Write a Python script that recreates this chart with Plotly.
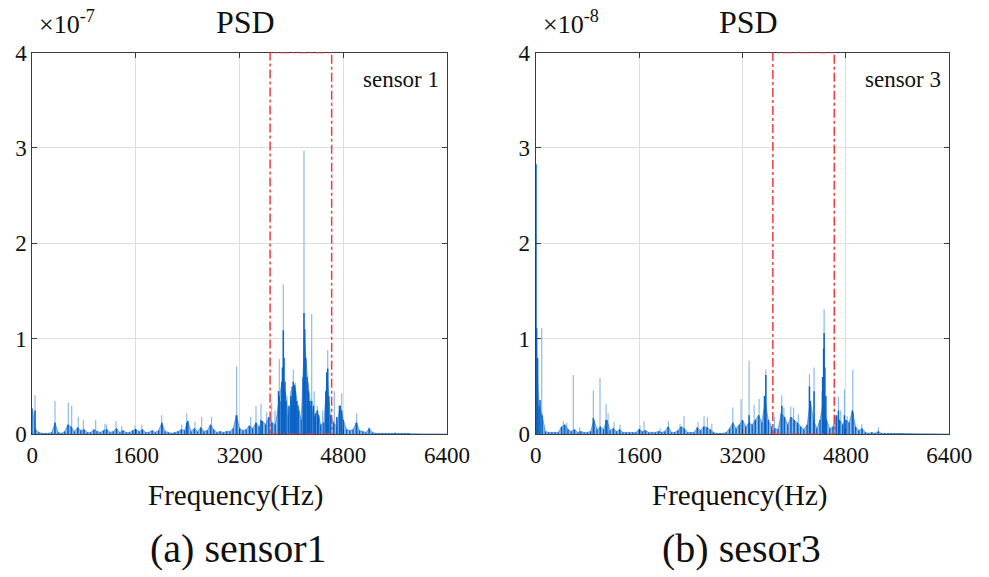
import numpy as np
import plotly.graph_objects as go

W, H = 989, 577

# ---------------- data ----------------
x_ticks = [0, 1600, 3200, 4800, 6400]
y_ticks = [0, 1, 2, 3, 4]
band = [3670, 4620]          # highlighted frequency band (Hz)
base_step = 50               # Hz spacing of the dense-floor samples

# sensor 1 (x 1e-7): dense floor of the spectrum, one value every 50 Hz from 0 to 6400
s1_base = [
    .27, .05, .02, .01, .01, .01, .02, .12, .02, .01,
    .03, .10, .08, .03, .07, .04, .05, .02, .02, .05,
    .03, .02, .04, .05, .02, .03, .06, .02, .04, .02,
    .02, .04, .05, .03, .05, .02, .02, .04, .02, .04,
    .12, .03, .02, .01, .02, .03, .05, .04, .14, .03,
    .06, .03, .07, .03, .04, .10, .05, .02, .03, .02,
    .03, .03, .06, .20, .06, .04, .05, .09, .06, .12,
    .08, .14, .10, .18, .12, .10, .30, .55, .45, .20,
    .35, .50, .30, .15, 1.00, .55, .30, .18, .25, .10,
    .12, .60, .20, .12, .08, .30, .15, .05, .04, .05,
    .12, .04, .03, .02, .06, .02, .01, .01, .01, .01,
    .01, .01, .015, .01, .01, .01, .01, .005, .005, .005,
    .004, .004, .004, .003, .003, .003, .003, .003, .003,
]
# sensor 1: dark (overlapping) cores of the peaks
s1_core_f = [42, 2000, 2383, 3154, 3452, 3530, 3800, 3812, 3840, 3860, 3874, 3885, 3900, 3915,
             3960, 3990, 4010, 4028, 4045, 4060, 4080, 4110, 4180, 4193, 4205, 4220, 4240,
             4260, 4280, 4312, 4340, 4370, 4420, 4530, 4545, 4559, 4575, 4700, 4740, 4775, 5006]
s1_core_v = [.25, .10, .12, .20, .12, .15, .45, .40, .35, .70, 1.09, .80, .55, .35,
             .30, .40, .50, .55, .52, .45, .35, .25, .60, 1.27, 1.10, .80, .60,
             .45, .35, .35, .30, .22, .20, .45, .65, .69, .40, .18, .30, .25, .12]
# sensor 1: thin peak tips
s1_peak_f = [42, 350, 556, 608, 710, 788, 978, 1121, 1146, 1292, 1380, 1585, 1690, 1997,
             2305, 2383, 2510, 2613, 2767, 3154, 3370, 3452, 3530, 3617, 3694, 3745, 3812,
             3874, 3930, 3985, 4028, 4060, 4193, 4312, 4350, 4397, 4480, 4559, 4661, 4775,
             5006, 5195]
s1_peak_v = [.41, .35, .33, .30, .18, .15, .15, .11, .10, .14, .085, .09, .10, .20,
             .10, .22, .13, .18, .18, .71, .18, .30, .32, .23, .33, .25, .79,
             1.57, .41, .45, .68, .54, 2.97, 1.26, .45, .30, .25, .88, .45, .43,
             .22, .07]

# sensor 3 (x 1e-8)
s3_base = [
    1.00, .30, .20, .03, .02, .02, .02, .02, .08, .10,
    .05, .03, .05, .02, .03, .02, .02, .03, .15, .05,
    .08, .05, .15, .04, .06, .03, .05, .02, .02, .02,
    .02, .02, .05, .03, .04, .02, .02, .02, .03, .02,
    .03, .08, .02, .02, .04, .08, .06, .02, .02, .02,
    .07, .04, .08, .07, .05, .02, .01, .01, .01, .02,
    .06, .12, .06, .10, .15, .08, .12, .10, .15, .20,
    .12, .35, .15, .08, .06, .05, .22, .18, .10, .18,
    .15, .12, .08, .05, .10, .35, .15, .06, .15, .35,
    .15, .06, .08, .20, .15, .10, .15, .12, .25, .08,
    .04, .06, .02, .01, .02, .01, .03, .01, .01, .01,
    .01, .01, .01, .01, .005, .005, .005, .004, .004, .004,
    .003, .003, .003, .003, .003, .003, .003, .003, .003,
]
s3_core_f = [5, 15, 30, 67, 892, 1088, 3302, 3540, 3561, 3808, 4236, 4308, 4440, 4455,
             4463, 4475, 4490, 4685, 4777, 4907]
s3_core_v = [2.83, 1.11, .80, .36, .17, .15, .20, .40, .62, .30, .50, .45, .60, .90,
             1.06, .70, .40, .25, .20, .23]
s3_peak_f = [93, 428, 480, 582, 680, 892, 995, 1088, 1120, 1212, 1305, 1614, 1676, 1925,
             2053, 2233, 2295, 2512, 2605, 2657, 2725, 3050, 3178, 3302, 3380, 3457, 3561,
             3694, 3808, 3840, 3947, 3990, 4065, 4236, 4308, 4430, 4463, 4685, 4720, 4777,
             4820, 4907, 5047, 5304]
s3_peak_v = [1.11, .14, .12, .62, .07, .46, .59, .32, .22, .13, .10, .09, .14, .06,
             .14, .11, .19, .13, .19, .18, .11, .28, .37, .77, .31, .37, .68,
             .18, .41, .28, .29, .28, .21, .63, .70, .45, 1.31, .39, .25, .47,
             .19, .68, .11, .07]

# ---------------- styling ----------------
FONT = "Liberation Serif, Times New Roman, Tinos, serif"
LIGHT = "#8fbbe8"
DARK = "#0b63c5"
RED = "#ee3b3b"
AX = "#3c3c3c"
GRID = "#dedede"
TXT = "#111111"


def stems(freqs, vals):
    xs, ys = [], []
    for f, v in zip(freqs, vals):
        xs += [f, f, None]
        ys += [0, v, None]
    return xs, ys


def px(x):
    return x / W


def py(y):
    return 1 - y / H


fig = go.Figure()

panels = [
    dict(ax="", base=s1_base, cf=s1_core_f, cv=s1_core_v, pf=s1_peak_f, pv=s1_peak_v,
         dom=[px(32.3), px(447.0)]),
    dict(ax="2", base=s3_base, cf=s3_core_f, cv=s3_core_v, pf=s3_peak_f, pv=s3_peak_v,
         dom=[px(535.7), px(949.3)]),
]

base_f = np.arange(0, 6401, base_step)

for p in panels:
    xa, ya = "x" + p["ax"], "y" + p["ax"]
    sx, sy = stems(p["pf"], p["pv"])
    fig.add_trace(go.Scatter(x=sx, y=sy, mode="lines", line=dict(color=LIGHT, width=1.2),
                             xaxis=xa, yaxis=ya, showlegend=False, hoverinfo="skip"))
    fig.add_trace(go.Scatter(x=base_f, y=p["base"], mode="lines", fill="tozeroy",
                             fillcolor="rgba(11,99,197,0.45)", line=dict(color="rgba(11,99,197,0.6)", width=0.8),
                             xaxis=xa, yaxis=ya, showlegend=False, hoverinfo="skip"))
    bx, by = stems(base_f, p["base"])
    fig.add_trace(go.Scatter(x=bx, y=by, mode="lines", line=dict(color=DARK, width=1.4),
                             xaxis=xa, yaxis=ya, showlegend=False, hoverinfo="skip"))
    cx, cy = stems(p["cf"], p["cv"])
    fig.add_trace(go.Scatter(x=cx, y=cy, mode="lines", line=dict(color=DARK, width=1.5),
                             xaxis=xa, yaxis=ya, showlegend=False, hoverinfo="skip"))
    fig.add_shape(type="rect", xref=xa, yref=ya, x0=band[0], x1=band[1], y0=0, y1=4,
                  line=dict(color=RED, width=1.5, dash="dashdot"), layer="above")

axis_common = dict(
    showline=True, linecolor=AX, linewidth=1, mirror="ticks",
    ticks="inside", ticklen=5, tickcolor=AX, tickwidth=1,
    showgrid=True, gridcolor=GRID, gridwidth=1, zeroline=False,
    automargin=False,
    tickfont=dict(family=FONT, size=23, color=TXT),
)

fig.update_layout(
    width=W, height=H,
    margin=dict(l=0, r=0, t=0, b=0),
    paper_bgcolor="white", plot_bgcolor="white",
    xaxis=dict(domain=panels[0]["dom"], range=[0, 6400], tickvals=x_ticks, anchor="y", **axis_common),
    yaxis=dict(domain=[py(434.3), py(52.5)], range=[0, 4], tickvals=y_ticks, anchor="x", **axis_common),
    xaxis2=dict(domain=panels[1]["dom"], range=[0, 6400], tickvals=x_ticks, anchor="y2", **axis_common),
    yaxis2=dict(domain=[py(434.3), py(52.5)], range=[0, 4], tickvals=y_ticks, anchor="x2", **axis_common),
)

ann = []
for cx0, exp, lab, sub, right in [(32.3, "-7", "sensor 1", "(a) sensor1", 441),
                                  (535.7, "-8", "sensor 3", "(b) sesor3", 943)]:
    mid = cx0 + 207
    ann.append(dict(x=px(cx0 + 5), y=py(22), xref="paper", yref="paper",
                    text="×10<sup>" + exp + "</sup>", showarrow=False, xanchor="left",
                    yanchor="middle", font=dict(family=FONT, size=26, color=TXT)))
    ann.append(dict(x=px(mid + 6), y=py(22), xref="paper", yref="paper", text="PSD",
                    showarrow=False, xanchor="center", yanchor="middle",
                    font=dict(family=FONT, size=32, color=TXT)))
    ann.append(dict(x=px(right), y=py(80), xref="paper", yref="paper", text=lab,
                    showarrow=False, xanchor="right", yanchor="middle",
                    font=dict(family=FONT, size=23, color=TXT)))
    ann.append(dict(x=px(mid - 3), y=py(495), xref="paper", yref="paper", text="Frequency(Hz)",
                    showarrow=False, xanchor="center", yanchor="middle",
                    font=dict(family=FONT, size=29, color=TXT)))
    ann.append(dict(x=px(mid - 1), y=py(548), xref="paper", yref="paper", text=sub,
                    showarrow=False, xanchor="center", yanchor="middle",
                    font=dict(family=FONT, size=40, color=TXT)))
fig.update_layout(annotations=ann)

fig.write_html("out.html")
